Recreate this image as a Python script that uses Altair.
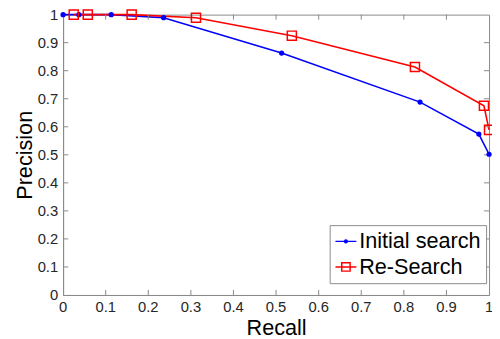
import altair as alt
import pandas as pd

# ---- data ----
series_names = ["Initial search", "Re-Search"]
init_recall = [0.0, 0.037, 0.113, 0.236, 0.513, 0.838, 0.976, 1.0]
init_prec = [1.0, 1.0, 1.0, 0.989, 0.863, 0.688, 0.574, 0.502]
re_recall = [0.025, 0.058, 0.161, 0.312, 0.537, 0.826, 0.988, 1.0]
re_prec = [1.0, 1.0, 1.0, 0.989, 0.925, 0.813, 0.675, 0.589]
tick_values = [0, 0.1, 0.2, 0.3, 0.4, 0.5, 0.6, 0.7, 0.8, 0.9, 1]
tick_labels = ["0", "0.1", "0.2", "0.3", "0.4", "0.5", "0.6", "0.7", "0.8", "0.9", "1"]
inner_ticks = [0.1, 0.2, 0.3, 0.4, 0.5, 0.6, 0.7, 0.8, 0.9]
colors = ["#0000ff", "#ff0000"]

rows = []
for i, (r, p) in enumerate(zip(init_recall, init_prec)):
    rows.append({"series": series_names[0], "recall": r, "precision": p, "idx": i})
for i, (r, p) in enumerate(zip(re_recall, re_prec)):
    rows.append({"series": series_names[1], "recall": r, "precision": p, "idx": i})
df = pd.DataFrame(rows)
ticks_df = pd.DataFrame({"t": inner_ticks})
labels_df = pd.DataFrame({"t": tick_values, "lab": tick_labels})

FONT = "Liberation Sans"
GRAY = "#8a8a8a"
LABEL_COLOR = "#262626"

xscale = alt.Scale(domain=[0, 1], nice=False, zero=False)
yscale = alt.Scale(domain=[0, 1], nice=False, zero=False)
color_scale = alt.Scale(domain=series_names, range=colors)

xaxis = alt.Axis(title="Recall", labels=False, grid=False, ticks=False, domainColor=GRAY,
                 titleFontSize=22, titleFont=FONT, titleFontWeight="normal",
                 titleColor="#000000", titlePadding=23)
yaxis = alt.Axis(title="Precision", labels=False, grid=False, ticks=False, domainColor=GRAY,
                 titleFontSize=22, titleFont=FONT, titleFontWeight="normal",
                 titleColor="#000000", titlePadding=27)

def X(f):
    return alt.X(f, scale=xscale, axis=xaxis)

def Y(f):
    return alt.Y(f, scale=yscale, axis=yaxis)

base = alt.Chart(df)
blue = base.transform_filter(alt.datum.series == series_names[0])
red = base.transform_filter(alt.datum.series == series_names[1])

blue_line = blue.mark_line(strokeWidth=1.6, color=colors[0]).encode(
    x=X("recall:Q"), y=Y("precision:Q"), order="idx:Q")
red_line = red.mark_line(strokeWidth=1.6, color=colors[1]).encode(
    x=X("recall:Q"), y=Y("precision:Q"), order="idx:Q")

blue_pts = blue.mark_point(shape="circle", filled=True, size=28, color=colors[0], opacity=1
                           ).encode(x=X("recall:Q"), y=Y("precision:Q"))
red_pts = red.mark_point(shape="square", filled=False, size=85, strokeWidth=1.5,
                         color=colors[1], opacity=1).encode(x=X("recall:Q"), y=Y("precision:Q"))

# inward tick marks on all four sides
tick_base = alt.Chart(ticks_df)
tb = tick_base.mark_rule(color=GRAY, strokeWidth=1).encode(
    x=X("t:Q"), y=alt.datum(0), y2=alt.datum(0.018))
tt = tick_base.mark_rule(color=GRAY, strokeWidth=1).encode(
    x=X("t:Q"), y=alt.datum(1), y2=alt.datum(0.982))
tl = tick_base.mark_rule(color=GRAY, strokeWidth=1).encode(
    y=Y("t:Q"), x=alt.datum(0), x2=alt.datum(0.012))
tr = tick_base.mark_rule(color=GRAY, strokeWidth=1).encode(
    y=Y("t:Q"), x=alt.datum(1), x2=alt.datum(0.988))

# tick labels
lab_base = alt.Chart(labels_df)
xlabels = lab_base.mark_text(font=FONT, fontSize=15, color=LABEL_COLOR, align="center",
                             baseline="top", dy=5).encode(
    x=X("t:Q"), y=alt.datum(0), text="lab:N")
ylabels = lab_base.mark_text(font=FONT, fontSize=15, color=LABEL_COLOR, align="right",
                             baseline="middle", dx=-5).encode(
    y=Y("t:Q"), x=alt.datum(0), text="lab:N")

# legend carrier (invisible marks, provides the legend)
dot_line = "M-1,0L1,0M-0.13,0A0.13,0.13 0 1,0 0.13,0A0.13,0.13 0 1,0 -0.13,0Z"
sq_line = "M-1,0L1,0M-0.4,-0.4L0.4,-0.4L0.4,0.4L-0.4,0.4Z"
leg = alt.Legend(title=None, orient="none", legendX=271, legendY=214,
                 symbolSize=450, symbolStrokeWidth=1.5,
                 labelFontSize=22, labelFont=FONT, labelColor="#000000",
                 labelOffset=2, rowPadding=3, padding=5,
                 fillColor="#ffffff", strokeColor=GRAY,
                 symbolOpacity=1, labelLimit=300)
legend_layer = base.mark_point(filled=False, strokeWidth=1.5, size=0).encode(
    x=X("recall:Q"), y=Y("precision:Q"),
    shape=alt.Shape("series:N", scale=alt.Scale(domain=series_names, range=[dot_line, sq_line]),
                    legend=leg),
    color=alt.Color("series:N", scale=color_scale, legend=leg),
)

chart = alt.layer(blue_line, red_line, tb, tt, tl, tr, xlabels, ylabels,
                  blue_pts, red_pts, legend_layer).properties(
    width=433, height=285,
    autosize=alt.AutoSizeParams(type="none"),
    padding={"left": 56, "top": 4, "right": 3, "bottom": 42},
    background="#ffffff",
).configure_view(stroke=GRAY, strokeWidth=1)

chart.save("out.html", embed_options={"renderer": "svg", "actions": False})
